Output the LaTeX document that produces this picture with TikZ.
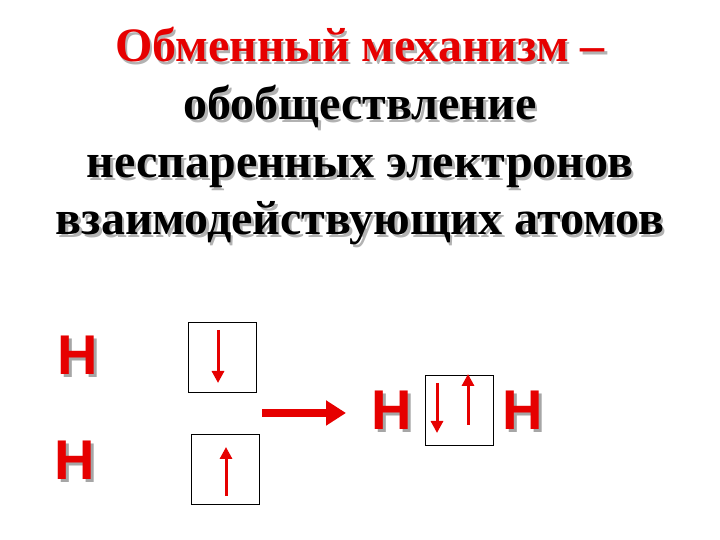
\documentclass[tikz,border=0pt]{standalone}
\usepackage{fontspec}
\setmainfont{Liberation Serif}
\newfontfamily\hfont{Liberation Sans}
\usetikzlibrary{arrows.meta}
\definecolor{myred}{RGB}{230,0,0}
\tikzset{
 ttl/.style={font=\fontsize{48}{50}\selectfont\bfseries,inner sep=0,anchor=base},
 shd/.style={text=gray!60},
 hl/.style={font=\hfont\fontsize{56}{56}\selectfont\bfseries,inner sep=0},
 cell/.style={draw=black,line width=0.8pt,minimum width=68pt,minimum height=70pt,inner sep=0},
 spin/.style={draw=myred,line width=3pt,-{Triangle[length=12pt,width=12pt]}},
}
\begin{document}
\begin{tikzpicture}[x=1pt,y=1pt]
\useasboundingbox (0,0) rectangle (720,540);
\fill[white] (0,0) rectangle (720,540);
\foreach \y/\t in {478/{Обменный механизм –},420/{обобществление},362/{неспаренных электронов},305/{взаимодействующих атомов}}{
 \node[ttl,shd] at (362.5,\y-2.5) {\t};
}
\node[ttl,text=myred] (t1) at (360,478) {Обменный механизм –};
\node[ttl] (t2) at (360,420) {обобществление};
\node[ttl] (t3) at (360,362) {неспаренных электронов};
\node[ttl] (t4) at (360,305) {взаимодействующих атомов};
\foreach \x/\y in {78/185,75/80,392/130,523/130}{
 \node[hl,text=gray!70] at (\x+3,\y-3) {H};
}
\node[hl,text=myred] (h1) at (78,185) {H};
\node[hl,text=myred] (h2) at (75,80) {H};
\node[hl,text=myred] (h3) at (392,130) {H};
\node[hl,text=myred] (h4) at (523,130) {H};
\node[cell] (c1) at (222,183) {};
\node[cell] (c2) at (225,70.5) {};
\node[cell] (c3) at (459,130) {};
\coordinate (a1s) at (218,210); \coordinate (a1e) at (218,157);
\draw[spin] (a1s) -- (a1e);
\coordinate (a2s) at (226,44); \coordinate (a2e) at (226,93);
\draw[spin] (a2s) -- (a2e);
\coordinate (a3s) at (437,157); \coordinate (a3e) at (437,107);
\draw[spin] (a3s) -- (a3e);
\coordinate (a4s) at (468,115); \coordinate (a4e) at (468,166);
\draw[spin] (a4s) -- (a4e);
\coordinate (r1) at (262,127); \coordinate (r2) at (346,127);
\draw[draw=myred,line width=8pt,-{Triangle[length=20pt,width=24pt]}] (r1) -- (r2);
\end{tikzpicture}
\end{document}
